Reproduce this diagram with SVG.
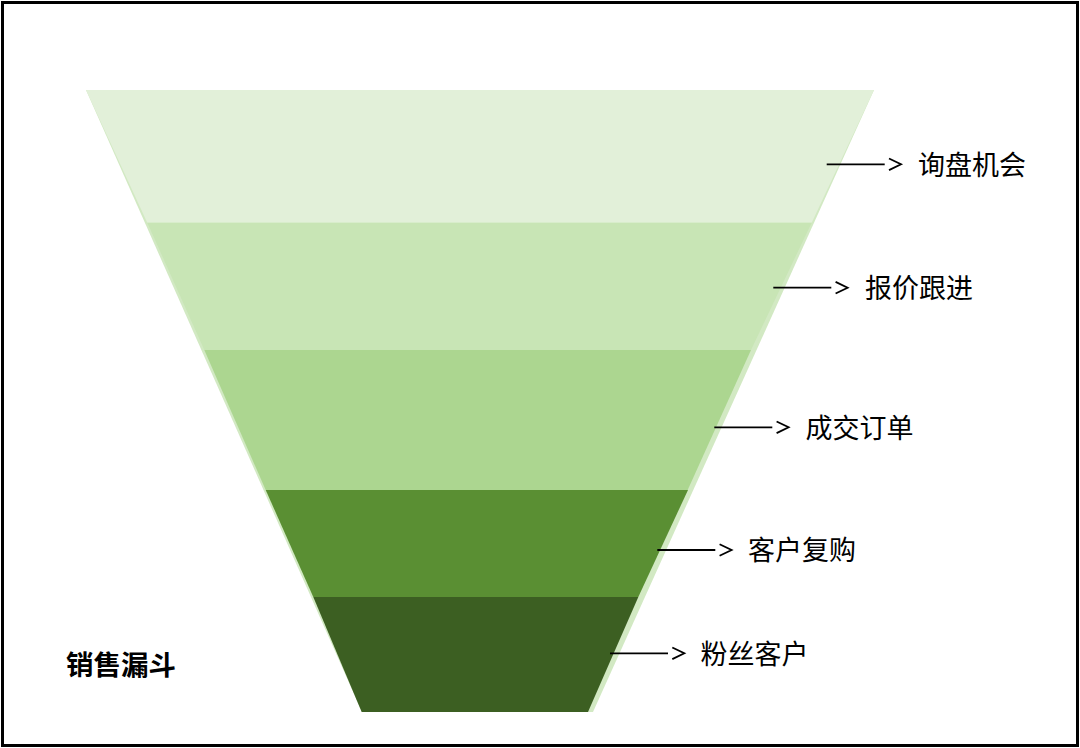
<svg xmlns="http://www.w3.org/2000/svg" width="1080" height="748" viewBox="0 0 1080 748">
  <style>
    .lbl { font-family: "Noto Sans CJK SC", "Noto Sans", sans-serif; font-size: 27px; fill: #000; }
    .title { font-family: "Noto Sans CJK SC", "Noto Sans", sans-serif; font-size: 27.5px; font-weight: bold; fill: #000; }
    .conn line, .conn polyline { stroke: #000; stroke-width: 1.8; fill: none; }
  </style>
  <rect x="0" y="0" width="1080" height="748" fill="#ffffff"/>
  <rect x="2.5" y="2.5" width="1075" height="743" fill="none" stroke="#000" stroke-width="3"/>

  <g id="funnel">
    <polygon points="86,90 874,90 593,712 362,712" fill="#d2e9c3"/>
    <g id="layer1"><polygon points="86,90 874,90 811.7,222.7 147.3,222.7" fill="#e2f0d9"/></g>
    <g id="layer2"><polygon points="147.3,222.7 811.7,222.7 751,350 204.3,350" fill="#c8e5b5"/></g>
    <g id="layer3"><polygon points="204.3,350 751,350 687.7,490 265.7,490" fill="#acd690"/></g>
    <g id="layer4"><polygon points="265.7,490 688,490 638.3,597 313.3,597" fill="#5a8f33"/></g>
    <g id="layer5"><polygon points="313.3,597 638.3,597 588,712 361.7,712" fill="#3c5f22"/></g>
  </g>

  <g id="connectors" class="conn">
    <line x1="826.7" y1="164.3" x2="884.7" y2="164.3"/>
    <polyline points="889,158.5 901,164.3 889,170.1"/>
    <line x1="773.3" y1="287.7" x2="831.3" y2="287.7"/>
    <polyline points="835.6,281.9 847.6,287.7 835.6,293.5"/>
    <line x1="714.3" y1="427.3" x2="772.3" y2="427.3"/>
    <polyline points="776.6,421.5 788.6,427.3 776.6,433.1"/>
    <line x1="657.3" y1="550" x2="715.3" y2="550"/>
    <polyline points="719.6,544.2 731.6,550 719.6,555.8"/>
    <line x1="610" y1="653.3" x2="668" y2="653.3"/>
    <polyline points="672.3,647.5 684.3,653.3 672.3,659.1"/>
  </g>

  <g id="label1"><text class="lbl" x="918" y="174.5">询盘机会</text></g>
  <g id="label2"><text class="lbl" x="865" y="298">报价跟进</text></g>
  <g id="label3"><text class="lbl" x="805.5" y="437.5">成交订单</text></g>
  <g id="label4"><text class="lbl" x="748" y="560.3">客户复购</text></g>
  <g id="label5"><text class="lbl" x="700.5" y="663.5">粉丝客户</text></g>
  <g id="title"><text class="title" x="66" y="674.5">销售漏斗</text></g>
</svg>
